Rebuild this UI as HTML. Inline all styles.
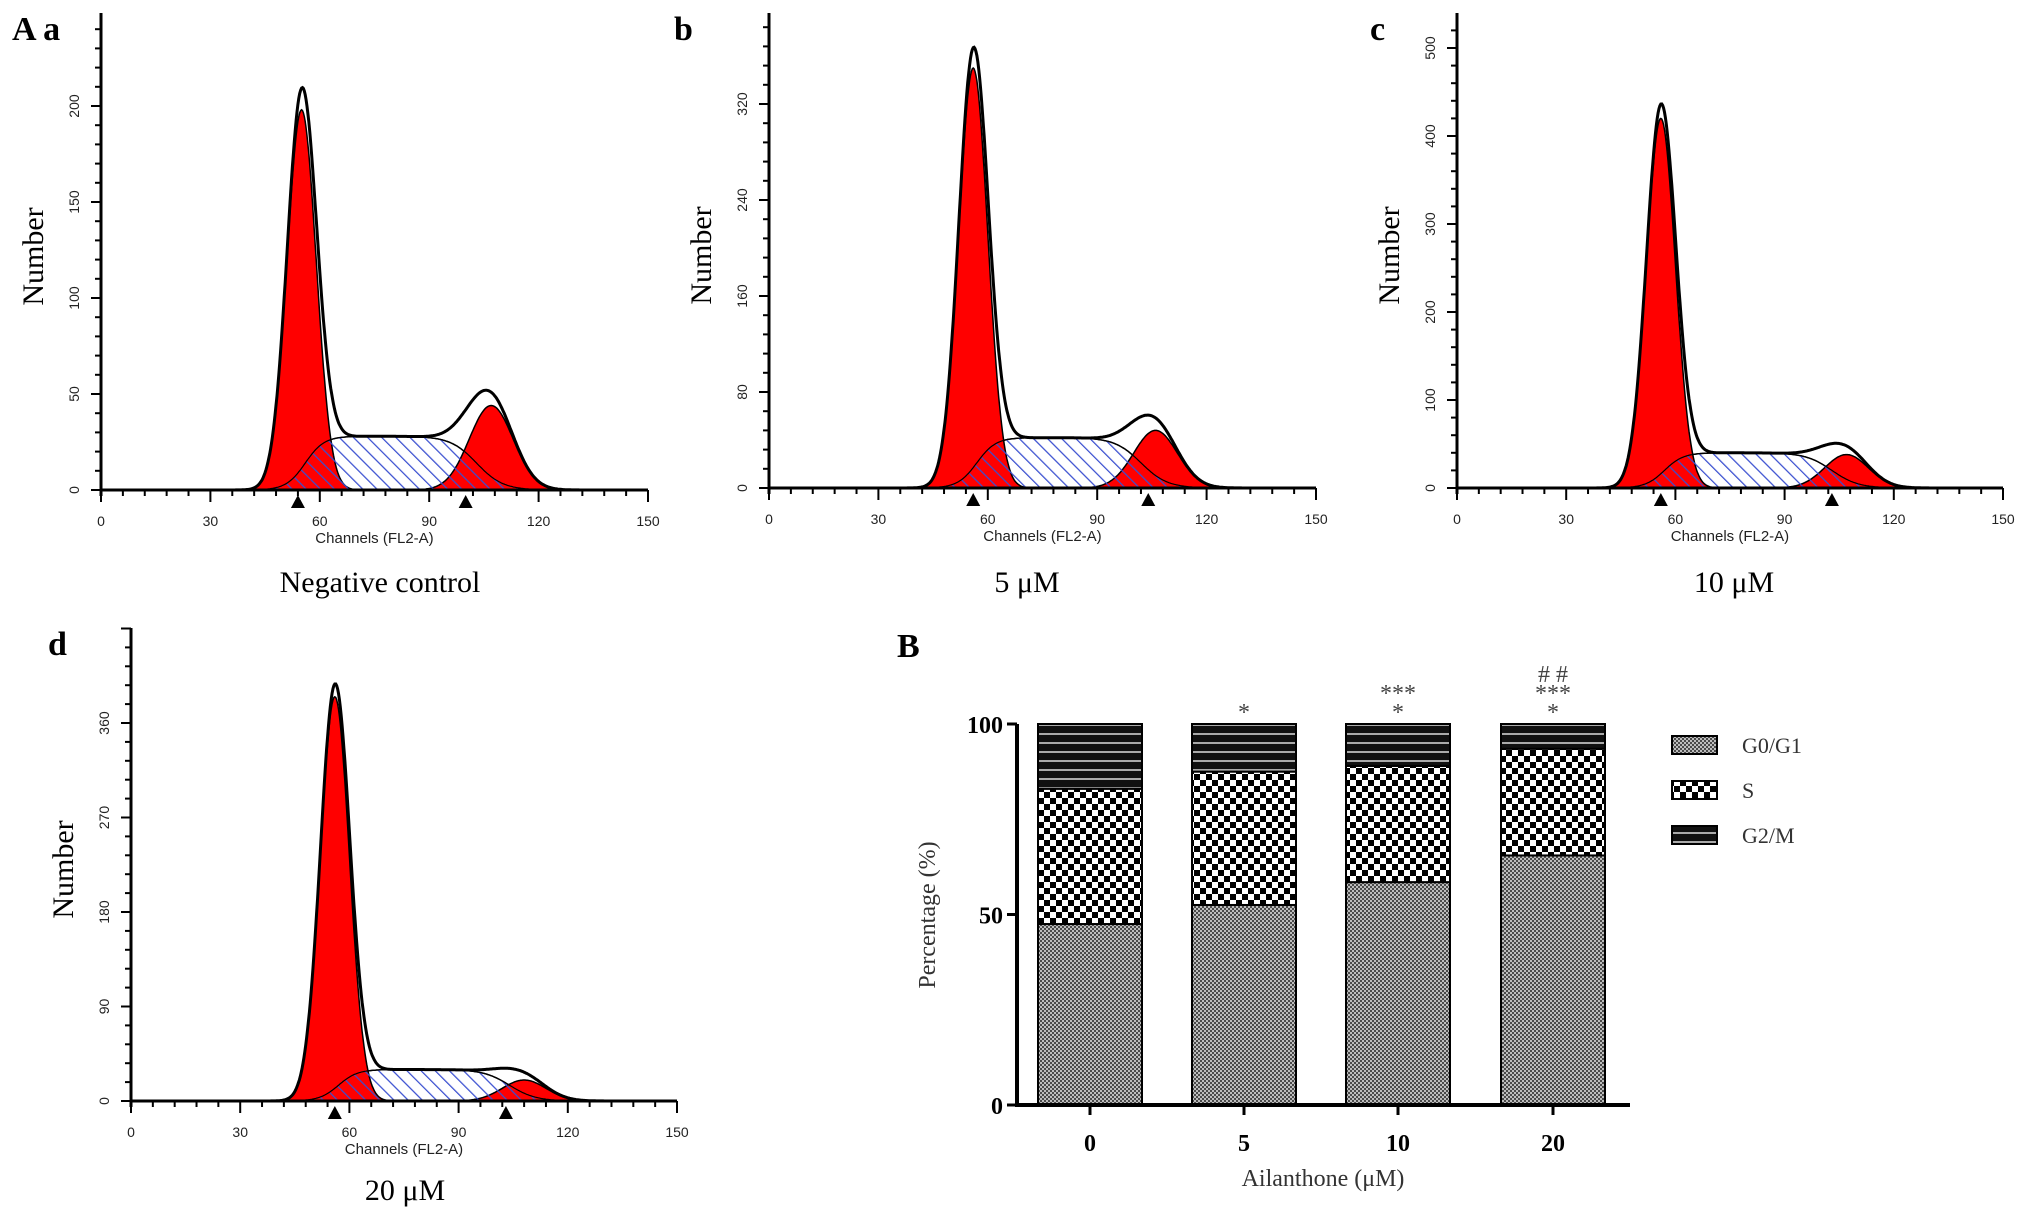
<!DOCTYPE html>
<html><head><meta charset="utf-8">
<style>
html,body{margin:0;padding:0;background:#fff;}
svg{display:block;}
.serif{font-family:"Liberation Serif",serif;}
.sans{font-family:"Liberation Sans",sans-serif;}
</style></head>
<body>
<svg id="fig" width="2031" height="1221" viewBox="0 0 2031 1221" xmlns="http://www.w3.org/2000/svg">
<defs>
<pattern id="sHatch" patternUnits="userSpaceOnUse" width="10" height="10" patternTransform="rotate(-45)">
<line x1="0" y1="0" x2="0" y2="10" stroke="#3a4fd0" stroke-width="2.5"/>
</pattern>
<pattern id="g1pat" patternUnits="userSpaceOnUse" width="4" height="4">
<rect width="4" height="4" fill="#bdbdbd"/><rect width="2" height="2" fill="#4a4a4a"/><rect x="2" y="2" width="2" height="2" fill="#4a4a4a"/>
</pattern>
<pattern id="spat" patternUnits="userSpaceOnUse" width="12" height="12">
<rect width="12" height="12" fill="#fff"/><rect width="6" height="6" fill="#000"/><rect x="6" y="6" width="6" height="6" fill="#000"/>
</pattern>
<pattern id="g2pat" patternUnits="userSpaceOnUse" width="10" height="9">
<rect width="10" height="9" fill="#111"/><rect y="4" width="10" height="2" fill="#aaa"/>
</pattern>
</defs>
<g id="hists"></g>
<g id="bars"></g>
</svg>
<script>
const NS="http://www.w3.org/2000/svg";
const svg=document.getElementById('fig');
function mk(tag,attrs,parent,txt){const e=document.createElementNS(NS,tag);for(const k in attrs)e.setAttribute(k,attrs[k]);if(txt!==undefined)e.textContent=txt;(parent||svg).appendChild(e);return e;}

// ---- Histogram data (fitted peak parameters) ----
const panelNames=['a','b','c','d'];
const panelTitles=['Negative control','5 μM','10 μM','20 μM'];
const g1Mean=[55,56,56,56];
const g1Height=[198,350,420,385];
const g1Sigma=[4,4,4,4];
const sHeight=[28,42,40,30];
const g2Mean=[107,106,107,108];
const g2Height=[44,48,38,20];
const g2Sigma=[6,6,6,6];
const g1Marker=[54,56,56,56];
const g2Marker=[100,104,103,103];
const yTickStep=[50,80,100,90];
const yTickMax=[200,320,500,360];
const xTicks=[0,30,60,90,120,150];

const layout=[
 {x0:101,x1:648,y0:490,top:13,ppu:96/50,label:[12,28],lx:'A a',title:[380,592]},
 {x0:769,x1:1316,y0:488,top:13,ppu:96/80,label:[674,28],lx:'b',title:[1027,592]},
 {x0:1457,x1:2003,y0:488,top:13,ppu:88/100,label:[1370,28],lx:'c',title:[1734,592]},
 {x0:131,x1:677,y0:1101,top:628,ppu:94.5/90,label:[48,643],lx:'d',title:[405,1200]}
];
const hg=document.getElementById('hists');
function gauss(x,m,s,h){return h*Math.exp(-0.5*((x-m)/s)**2);}
function sig(z){return 1/(1+Math.exp(-z));}
layout.forEach((L,i)=>{
  const g=mk('g',{},hg);
  
  
  const X=c=>L.x0+(L.x1-L.x0)*c/150, Y=v=>L.y0-v*L.ppu;
  const g1=c=>gauss(c,g1Mean[i],g1Sigma[i],g1Height[i]);
  const g2=c=>gauss(c,g2Mean[i],g2Sigma[i],g2Height[i]);
  const s=c=>sHeight[i]*sig((c-(g1Mean[i]+1))/2.6)*sig(((g2Mean[i]-4)-c)/3.6);
  const path=(f,a,b)=>{let d='M'+X(a)+','+Y(0);for(let c=a;c<=b;c+=0.25)d+='L'+X(c).toFixed(1)+','+Y(f(c)).toFixed(1);return d+'L'+X(b)+','+Y(0)+'Z';};
  const sp=path(s,40,140);
  let e=mk('path',{d:sp,fill:'#fff',stroke:'#000','stroke-width':1.5},g); 
  e=mk('path',{d:path(g1,38,75),fill:'#f00',stroke:'#000','stroke-width':1.5},g); 
  e=mk('path',{d:path(g2,80,135),fill:'#f00',stroke:'#000','stroke-width':1.5},g); 
  e=mk('path',{d:sp,fill:'url(#sHatch)',stroke:'#000','stroke-width':1.2},g); 
  let d='';for(let c=0;c<=150;c+=0.25){const v=g1(c)+g2(c)+s(c);d+=(c?'L':'M')+X(c).toFixed(1)+','+Y(v).toFixed(1);}
  e=mk('path',{d:d,fill:'none',stroke:'#000','stroke-width':3},g); 
  e=mk('line',{x1:L.x0,y1:L.y0,x2:L.x1,y2:L.y0,stroke:'#000','stroke-width':3},g); 
  e=mk('line',{x1:L.x0,y1:L.y0+6,x2:L.x0,y2:L.top,stroke:'#000','stroke-width':3},g); 
  for(let c=0;c<=150;c+=6){mk('line',{x1:X(c),y1:L.y0,x2:X(c),y2:L.y0+(c%30?6:12),stroke:'#000','stroke-width':2},g);}
  xTicks.forEach(t=>{const tt=mk('text',{x:X(t),y:L.y0+36,'text-anchor':'middle','font-size':14,class:'sans',fill:'#222'},g,t);});
  const step=yTickStep[i]/5;
  for(let v=0;Y(v)>=L.top;v+=step){mk('line',{x1:L.x0,y1:Y(v),x2:L.x0-((Math.round(v/step))%5?6:10),y2:Y(v),stroke:'#000','stroke-width':2},g);}
  for(let v=0;v<=yTickMax[i];v+=yTickStep[i]){const tt=mk('text',{x:L.x0-22,y:Y(v),'text-anchor':'middle','font-size':14,class:'sans',fill:'#222',transform:`rotate(-90 ${L.x0-22} ${Y(v)})`},g,v);}
  [g1Marker[i],g2Marker[i]].forEach(m=>{const t=mk('path',{d:`M${X(m)-7},${L.y0+18}L${X(m)+7},${L.y0+18}L${X(m)},${L.y0+5}Z`,fill:'#000'},g);});
  e=mk('text',{x:(L.x0+L.x1)/2,y:L.y0+53,'text-anchor':'middle','font-size':15,class:'sans',fill:'#222'},g,'Channels (FL2-A)');
  const ny=(L.y0+L.top)/2+5;
  e=mk('text',{x:L.x0-58,y:ny,'text-anchor':'middle','font-size':30,class:'serif',transform:`rotate(-90 ${L.x0-58} ${ny})`},g,'Number');
  e=mk('text',{x:L.label[0],y:L.label[1]+12,'font-size':34,'font-weight':'bold',class:'serif'},g,L.lx);
  e=mk('text',{x:L.title[0],y:L.title[1],'text-anchor':'middle','font-size':30,class:'serif'},g,panelTitles[i]);
});

// ---- Bar chart B ----
const doses=['0','5','10','20'];
const g0g1=[47.5,52.5,58.5,65.5];
const sPhase=[35.5,35,30.5,28];
const g2m=[17,12.5,11,6.5];
const sigMarks=['','*','***\n*','# #\n***\n*'];
const bg=document.getElementById('bars');
const B={xAxis:1017,x1:1630,y0:1105,y100:724,barW:104,centers:[1090,1244,1398,1553]};
const YB=v=>B.y0-(B.y0-B.y100)*v/100;
let e=mk('text',{x:897,y:657,'font-size':34,'font-weight':'bold',class:'serif'},bg,'B');
doses.forEach((d,i)=>{
  const cx=B.centers[i],x=cx-B.barW/2;
  const segs=[[0,g0g1[i],'url(#g1pat)','bar-g0g1-'+d],[g0g1[i],g0g1[i]+sPhase[i],'url(#spat)','bar-s-'+d],[g0g1[i]+sPhase[i],100,'url(#g2pat)','bar-g2m-'+d]];
  segs.forEach(sg=>{const r=mk('rect',{x:x,y:YB(sg[1]),width:B.barW,height:YB(sg[0])-YB(sg[1]),fill:sg[2],stroke:'#000','stroke-width':2},bg);});
  const lines=sigMarks[i]?sigMarks[i].split('\n'):[];
  lines.forEach((ln,k)=>{const t=mk('text',{x:cx,y:YB(100)-4-(lines.length-1-k)*19,'text-anchor':'middle','font-size':24,class:'serif',fill:'#444'},bg,ln);});
  mk('line',{x1:cx,y1:B.y0,x2:cx,y2:B.y0+10,stroke:'#000','stroke-width':3},bg);
  const t=mk('text',{x:cx,y:B.y0+46,'text-anchor':'middle','font-size':24,'font-weight':'bold',class:'serif'},bg,d);
});
e=mk('line',{x1:B.xAxis,y1:B.y0,x2:B.x1,y2:B.y0,stroke:'#000','stroke-width':4},bg);
e=mk('line',{x1:B.xAxis,y1:B.y0+2,x2:B.xAxis,y2:YB(100),stroke:'#000','stroke-width':4},bg);
[0,50,100].forEach(v=>{mk('line',{x1:B.xAxis-10,y1:YB(v),x2:B.xAxis,y2:YB(v),stroke:'#000','stroke-width':3},bg);const t=mk('text',{x:B.xAxis-14,y:YB(v)+9,'text-anchor':'end','font-size':24,'font-weight':'bold',class:'serif'},bg,v);});
e=mk('text',{x:935,y:915,'text-anchor':'middle','font-size':24,class:'serif',fill:'#333',transform:'rotate(-90 935 915)'},bg,'Percentage (%)');
e=mk('text',{x:1323,y:1186,'text-anchor':'middle','font-size':24,class:'serif',fill:'#333'},bg,'Ailanthone (μM)');
[['G0/G1','url(#g1pat)',745],['S','url(#spat)',790],['G2/M','url(#g2pat)',835]].forEach(l=>{
  const r=mk('rect',{x:1672,y:l[2]-9,width:45,height:18,fill:l[1],stroke:'#000','stroke-width':2},bg);
  const t=mk('text',{x:1742,y:l[2]+8,'font-size':22,class:'serif',fill:'#333'},bg,l[0]);
});
</script>
</body></html>
